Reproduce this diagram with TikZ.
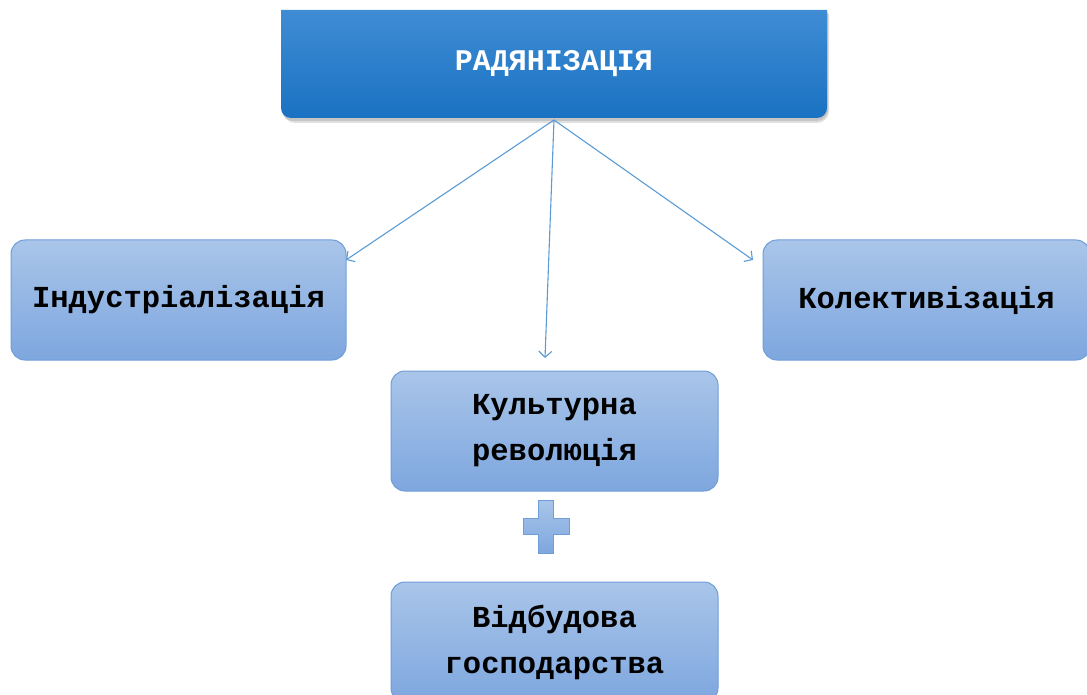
\documentclass[tikz,border=0pt]{standalone}
\usepackage{fontspec}
\newfontfamily\monofnt{Liberation Mono}
\usetikzlibrary{arrows.meta}
\definecolor{topA}{HTML}{3F8CD4}
\definecolor{topB}{HTML}{1A72C2}
\definecolor{boxA}{HTML}{A9C5E9}
\definecolor{boxB}{HTML}{7EA7DF}
\definecolor{boxEdge}{HTML}{6E9DD8}
\definecolor{arrowc}{HTML}{5B9BD5}
\tikzset{
  card/.style={draw=boxEdge, line width=1pt, rounded corners=14pt, top color=boxA, bottom color=boxB,
    minimum height=120pt, align=center, inner sep=0pt,
    font=\monofnt\bfseries\fontsize{30.5}{46}\selectfont},
  link/.style={draw=arrowc, line width=1.1pt, -{Straight Barb[length=6pt,width=13pt]}}
}
\begin{document}
\begin{tikzpicture}[x=1pt,y=-1pt]
\useasboundingbox (0,0) rectangle (1087,695);
% title box shadow and body
\fill[black, opacity=0.12] (283,14) -- (829,14) [rounded corners=12pt] -- (829,123) -- (283,123) [sharp corners] -- cycle;
\fill[black, opacity=0.12] (282,12) -- (828,12) [rounded corners=11pt] -- (828,121) -- (282,121) [sharp corners] -- cycle;
\shade[top color=topA, bottom color=topB] (281,10) -- (827,10) [rounded corners=10pt] -- (827,118) -- (281,118) [sharp corners] -- cycle;
\node[text=white, font=\monofnt\bfseries\fontsize{30}{36}\selectfont] (top) at (554,64) {РАДЯНІЗАЦІЯ};
\coordinate (topbase) at (554,120);

\node[card, minimum width=335pt] (ind) at (178.5,300) {Індустріалізація};
\node[card, minimum width=327pt] (kol) at (926.5,300) {Колективізація};
\node[card, minimum width=327pt] (kul) at (554.5,431) {Культурна\\революція};
\node[card, minimum width=327pt] (vid) at (554.5,642) {Відбудова\\господарства};

% plus sign
\path[draw=boxEdge, line width=0.8pt, top color=boxA, bottom color=boxB]
  (538.5,500) -- (553.5,500) -- (553.5,518.5) -- (569,518.5) -- (569,534.5) -- (553.5,534.5)
  -- (553.5,553) -- (538.5,553) -- (538.5,534.5) -- (523,534.5) -- (523,518.5) -- (538.5,518.5) -- cycle;

\coordinate (endL) at (346,260);
\coordinate (endM) at (545,358);
\coordinate (endR) at (753,260);
\draw[link] (topbase) -- (endL);
\draw[link] (topbase) -- (endM);
\draw[link] (topbase) -- (endR);
\end{tikzpicture}
\end{document}
